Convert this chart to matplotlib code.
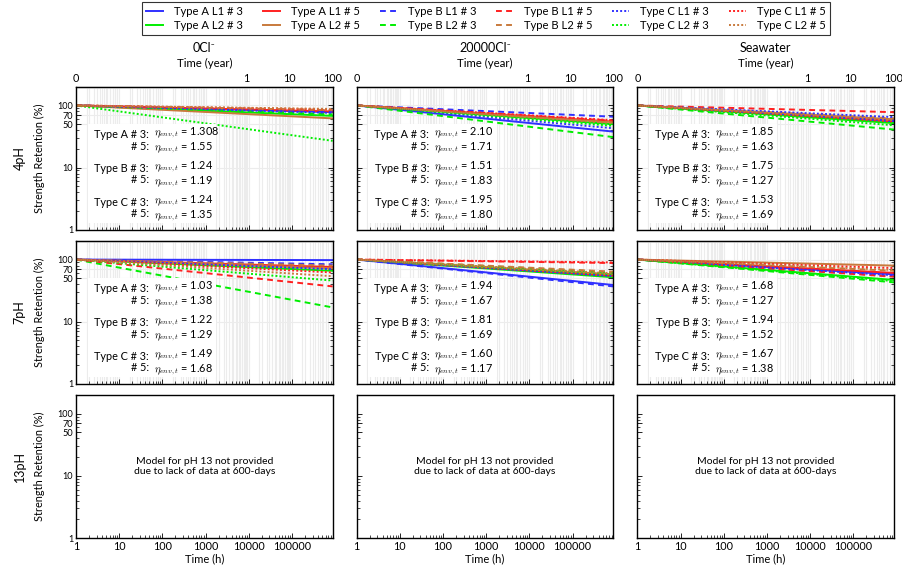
import matplotlib
matplotlib.use("Agg")
import matplotlib.pyplot as plt
from matplotlib.patches import Rectangle
from matplotlib.lines import Line2D
from matplotlib.ticker import FixedLocator, FixedFormatter, LogLocator, NullFormatter

plt.rcParams['font.family'] = ['Lato', 'DejaVu Sans']
plt.rcParams['mathtext.fontset'] = 'cm'

# ---------------------------------------------------------------- data
environments = ['0Cl⁻', '20000Cl⁻', 'Seawater']
ph_levels = ['4pH', '7pH', '13pH']

# series in legend (column-major) order
series_labels = ['Type A L1 # 3', 'Type A L2 # 3', 'Type A L1 # 5', 'Type A L2 # 5',
                 'Type B L1 # 3', 'Type B L2 # 3', 'Type B L1 # 5', 'Type B L2 # 5',
                 'Type C L1 # 3', 'Type C L2 # 3', 'Type C L1 # 5', 'Type C L2 # 5']
series_colors = ['#3030ff', '#00ee00', '#ff2020', '#c87a3c'] * 3
series_styles = ['-'] * 4 + ['--'] * 4 + [':'] * 4

# model lines: retention (%) at start (1 h) and at 100 years (876000 h)
time_hours = [1, 876000]
retention_start = 100
end_4ph_0cl = [78, 68, 80, 62, 80, 72, 84, 84, 76, 27, 86, 88]
end_4ph_20000cl = [38, 50, 55, 54, 66, 31, 57, 53, 43, 47, 58, 52]
end_4ph_seawater = [55, 52, 58, 60, 57, 41, 78, 62, 65, 48, 55, 58]
end_7ph_0cl = [98, 66, 76, 72, 84, 17, 37, 80, 70, 46, 62, 54]
end_7ph_20000cl = [39, 52, 55, 58, 37, 62, 88, 64, 54, 58, 90, 60]
end_7ph_seawater = [58, 47, 61, 80, 54, 43, 53, 66, 56, 45, 73, 68]

# environmental reduction factors (#3, #5) for Type A, B, C
eta_4ph_0cl = [('1.308', '1.55'), ('1.24', '1.19'), ('1.24', '1.35')]
eta_4ph_20000cl = [('2.10', '1.71'), ('1.51', '1.83'), ('1.95', '1.80')]
eta_4ph_seawater = [('1.85', '1.63'), ('1.75', '1.27'), ('1.53', '1.69')]
eta_7ph_0cl = [('1.03', '1.38'), ('1.22', '1.29'), ('1.49', '1.68')]
eta_7ph_20000cl = [('1.94', '1.67'), ('1.81', '1.69'), ('1.60', '1.17')]
eta_7ph_seawater = [('1.68', '1.27'), ('1.94', '1.52'), ('1.67', '1.38')]

panel_ends = [[end_4ph_0cl, end_4ph_20000cl, end_4ph_seawater],
              [end_7ph_0cl, end_7ph_20000cl, end_7ph_seawater]]
panel_etas = [[eta_4ph_0cl, eta_4ph_20000cl, eta_4ph_seawater],
              [eta_7ph_0cl, eta_7ph_20000cl, eta_7ph_seawater]]
fiber_types = ['A', 'B', 'C']

x_ticks = [1, 10, 100, 1000, 10000, 100000]
x_ticklabels = ['1', '10', '100', '1000', '10000', '100000']
y_ticks = [1, 10, 50, 70, 100]
y_ticklabels = ['1', '10', '50', '70', '100']
year_ticks = [1 / 8760, 1, 10, 100]
year_ticklabels = ['0', '1', '10', '100']
HOURS_PER_YEAR = 8760
note_13ph = 'Model for pH 13 not provided\ndue to lack of data at 600-days'

# ---------------------------------------------------------------- figure
fig, axes = plt.subplots(3, 3, figsize=(9.02, 5.67), dpi=100)
fig.subplots_adjust(left=0.0843, right=0.9911, top=0.847, bottom=0.0511,
                    wspace=0.094, hspace=0.077)

grid_color = '#ececec'
fs_tick = 7.8
fs_ytick = 6.6
fs_note = 7.8


def dash_kw(style):
    if style == '--':
        return {'dashes': (3, 2.2)}
    if style == ':':
        return {'dashes': (1, 1.1)}
    return {}


# vertical grid positions from the year scale (major + minor)
year_grid = []
for k in range(-4, 3):
    for m in range(1, 10):
        v = m * 10.0 ** k * HOURS_PER_YEAR
        if 1 < v < 876000:
            year_grid.append(v)

for r in range(3):
    for c in range(3):
        ax = axes[r, c]
        ax.set_xscale('log')
        ax.set_yscale('log')
        ax.set_xlim(1, 876000)
        ax.set_ylim(1, 200)
        for s in ax.spines.values():
            s.set_linewidth(1.0)
            s.set_color('black')

        ax.xaxis.set_major_locator(FixedLocator(x_ticks))
        ax.xaxis.set_minor_locator(LogLocator(base=10, subs=range(2, 10), numticks=50))
        ax.xaxis.set_minor_formatter(NullFormatter())
        ax.yaxis.set_major_locator(FixedLocator(y_ticks))
        ax.yaxis.set_minor_locator(LogLocator(base=10, subs=range(2, 10), numticks=50))
        ax.yaxis.set_minor_formatter(NullFormatter())
        if r == 2:
            ax.xaxis.set_major_formatter(FixedFormatter(x_ticklabels))
        else:
            ax.xaxis.set_major_formatter(NullFormatter())
        if c == 0:
            ax.yaxis.set_major_formatter(FixedFormatter(y_ticklabels))
        else:
            ax.yaxis.set_major_formatter(NullFormatter())
        ax.tick_params(which='both', direction='in', right=(r < 2), top=False, pad=2)
        ax.tick_params(axis='x', labelsize=fs_tick)
        ax.tick_params(axis='y', labelsize=fs_ytick)
        ax.tick_params(which='major', length=3.5, width=0.6)
        ax.tick_params(which='minor', length=2, width=0.5)

        if c == 0:
            ax.text(-0.141, 0.5, 'Strength Retention (%)', transform=ax.transAxes,
                    rotation=90, ha='center', va='center', fontsize=7.8)
            ax.text(-0.219, 0.5, ph_levels[r], transform=ax.transAxes,
                    rotation=90, ha='center', va='center', fontsize=9)
        if r == 2:
            ax.text(0.5, -0.147, 'Time (h)', transform=ax.transAxes,
                    ha='center', va='center', fontsize=8)
            ax.text(0.5, 0.5, note_13ph, transform=ax.transAxes, ha='center',
                    va='center', multialignment='center', fontsize=7.5)
            continue

        # grid
        ax.set_axisbelow(True)
        ax.grid(which='major', axis='y', color=grid_color, lw=0.8)
        ax.grid(which='both', axis='x', color=grid_color, lw=0.8)
        for v in year_grid:
            ax.axvline(v, color=grid_color, lw=0.8, zorder=0.5)

        # model lines
        ends = panel_ends[r][c]
        for i in range(len(series_labels)):
            ax.plot(time_hours, [retention_start, ends[i]],
                    color=series_colors[i], ls=series_styles[i], lw=1.4,
                    zorder=2, **dash_kw(series_styles[i]))

        # top axis in years
        sec = ax.secondary_xaxis('top', functions=(lambda h: h / HOURS_PER_YEAR,
                                                   lambda y: y * HOURS_PER_YEAR))
        sec.set_xticks(year_ticks)
        sec.set_xticklabels(year_ticklabels if r == 0 else [''] * len(year_ticks))
        sec.xaxis.set_minor_locator(LogLocator(base=10, subs=range(2, 10), numticks=50))
        sec.xaxis.set_minor_formatter(NullFormatter())
        sec.tick_params(which='both', direction='in', labelsize=fs_tick, pad=2)
        sec.tick_params(which='major', length=3.5, width=0.6)
        sec.tick_params(which='minor', length=2, width=0.5)
        if r == 0:
            ax.text(0.5, 1.161, 'Time (year)', transform=ax.transAxes,
                    ha='center', va='center', fontsize=8.2)
            ax.text(0.5, 1.273, environments[c], transform=ax.transAxes,
                    ha='center', va='center', fontsize=9)

        # eta annotations on a white background
        ax.add_patch(Rectangle((0.045, 0.05), 0.50, 0.69, transform=ax.transAxes,
                               facecolor='white', edgecolor='none', zorder=3))
        group_y = [0.6235, 0.3885, 0.1515]
        etas = panel_etas[r][c]
        for g, typ in enumerate(fiber_types):
            e3, e5 = etas[g]
            ax.text(0.283, group_y[g], f'Type {typ} # 3:\n# 5:', transform=ax.transAxes,
                    ha='right', va='center', multialignment='right',
                    fontsize=fs_note, linespacing=1.05, zorder=4)
            ax.text(0.303, group_y[g],
                    r'$\eta_{env,t}$ = ' + e3 + '\n' + r'$\eta_{env,t}$ = ' + e5,
                    transform=ax.transAxes, ha='left', va='center',
                    multialignment='left', fontsize=fs_note, linespacing=1.05,
                    zorder=4)

# legend
handles = [Line2D([], [], color=series_colors[i], ls=series_styles[i], lw=1.4,
                  **dash_kw(series_styles[i]))
           for i in range(len(series_labels))]
leg = fig.legend(handles, series_labels, loc='upper center', ncol=6,
                 bbox_to_anchor=(486 / 902, 1 - 2 / 567), fontsize=8.1,
                 frameon=True, fancybox=False, edgecolor='black',
                 handlelength=1.5, handletextpad=1.0, columnspacing=1.75,
                 labelspacing=0.25, borderpad=0.35, borderaxespad=0.0)
leg.get_frame().set_linewidth(0.8)

fig.savefig('out.png', dpi=100)
